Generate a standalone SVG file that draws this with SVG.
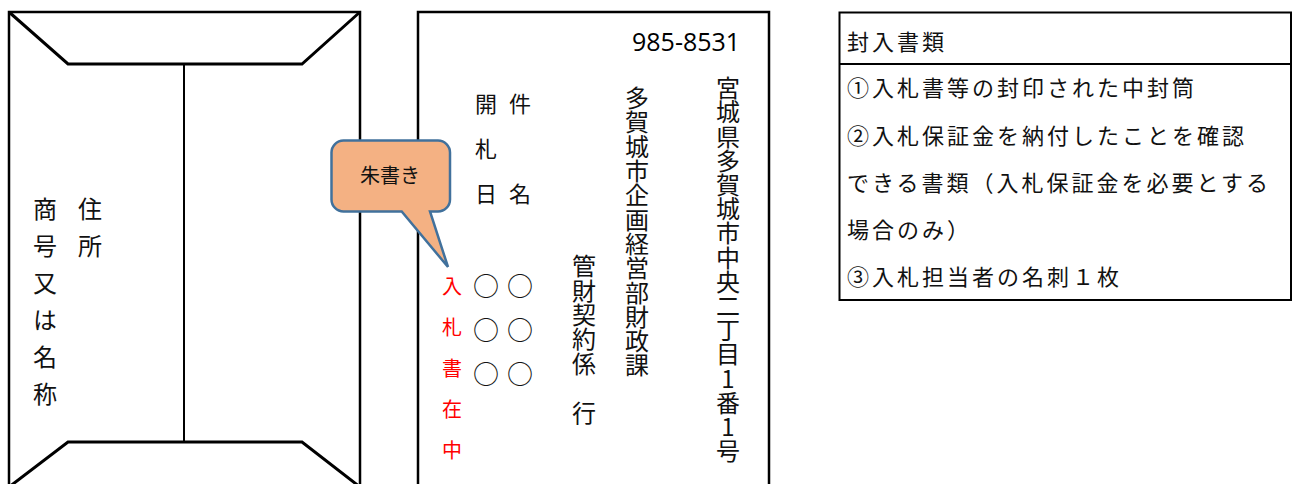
<svg xmlns="http://www.w3.org/2000/svg" width="1295" height="484" viewBox="0 0 1295 484">
<style>
.jp{font-family:"Noto Sans CJK JP","Noto Sans CJK SC",sans-serif;fill:#111;}
.v{writing-mode:vertical-rl;text-orientation:upright;}
.env{fill:none;stroke:#000;stroke-width:2.5;}
.flap{fill:none;stroke:#000;stroke-width:3;stroke-linejoin:miter;}
.tbl{fill:none;stroke:#000;stroke-width:2;}
.row{font-size:22px;letter-spacing:3px;}
.circ{font-size:26px;letter-spacing:18px;}
</style>
<rect width="1295" height="484" fill="#fff"/>
<g id="back-envelope">
  <rect class="env" x="9" y="12" width="351" height="480"/>
  <polyline class="flap" points="9,12 68,64 302,64 360,12"/>
  <line x1="184" y1="64" x2="184" y2="442" stroke="#000" stroke-width="2"/>
  <polyline class="flap" points="9,487 68,442 302,442 360,487"/>
  <text class="jp v" x="45" y="197" font-size="24" letter-spacing="13">商号又は名称</text>
  <text class="jp v" x="90" y="197" font-size="24" letter-spacing="13">住所</text>
</g>
<g id="front-envelope">
  <rect class="env" x="418" y="12" width="351" height="480"/>
  <text x="632" y="51" font-family="'Open Sans',sans-serif" font-size="25" fill="#000">985-8531</text>
  <text class="jp v" x="728" y="76" font-size="24" letter-spacing="0.2">宮城県多賀城市中央二丁目1番1号</text>
  <text class="jp v" x="637" y="86" font-size="24" letter-spacing="0.3">多賀城市企画経営部財政課</text>
  <text class="jp v" x="584" y="254" font-size="24" letter-spacing="0.4">管財契約係　行</text>
  <text class="jp v" x="486" y="93" font-size="22" letter-spacing="23">開札日　<tspan class="circ">○○○</tspan></text>
  <text class="jp v" x="520" y="93" font-size="22" letter-spacing="23">件　名　<tspan class="circ">○○○</tspan></text>
  <text class="jp v" x="452" y="276" font-size="20" letter-spacing="21" style="fill:#ff0000">入札書在中</text>
</g>
<g id="callout">
  <path d="M343.5,140.5 H438 A12,12 0 0 1 450,152.5 V199.5 A12,12 0 0 1 438,211.5 H430 L448,267 L401.7,211.5 H343.5 A12,12 0 0 1 331.5,199.5 V152.5 A12,12 0 0 1 343.5,140.5 Z" fill="#F4B183" stroke="#41719C" stroke-width="2.5"/>
  <text class="jp" x="390" y="183" font-size="20" text-anchor="middle">朱書き</text>
</g>
<g id="enclosures-table">
  <rect class="tbl" x="839.5" y="12.5" width="451.5" height="287.5"/>
  <line class="tbl" x1="839.5" y1="64" x2="1291" y2="64"/>
  <text class="jp row" x="847" y="50">封入書類</text>
  <text class="jp row" x="847" y="96">①入札書等の封印された中封筒</text>
  <text class="jp row" x="847" y="144">②入札保証金を納付したことを確認</text>
  <text class="jp row" x="847" y="191">できる書類（入札保証金を必要とする</text>
  <text class="jp row" x="847" y="238">場合のみ）</text>
  <text class="jp row" x="847" y="285">③入札担当者の名刺１枚</text>
</g>
<g id="connectors"></g>
</svg>
